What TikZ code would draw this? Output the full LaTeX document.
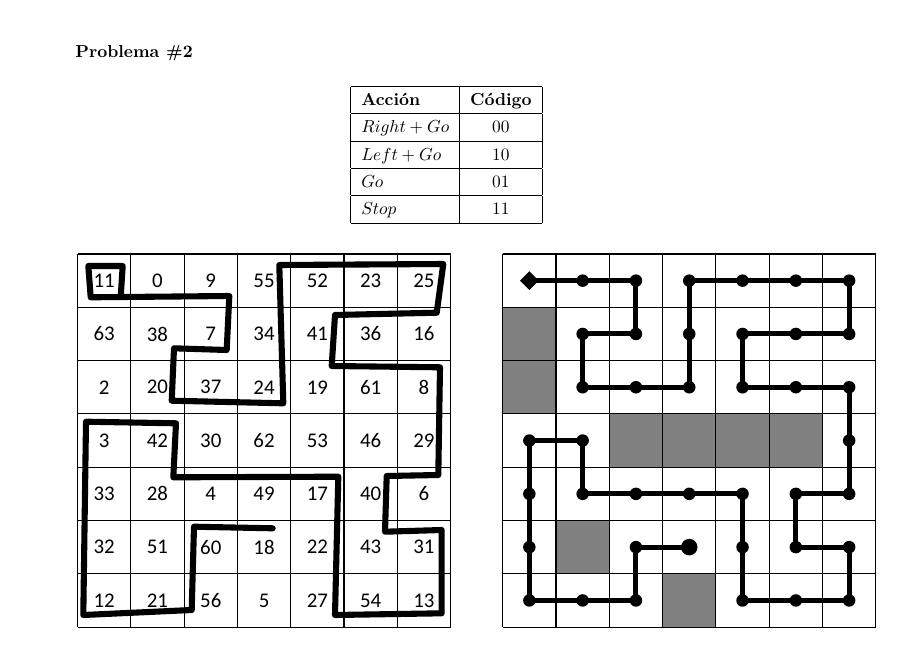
\documentclass[tikz,border=0pt]{standalone}
\usepackage{fontspec}
\newfontfamily\calibri{Carlito}
\usepackage{tikz}
\usetikzlibrary{shapes.geometric}
\definecolor{celdagris}{RGB}{128,128,128}
\newcommand{\cel}{53.3}

\begin{document}
\begin{tikzpicture}[x=0.575pt, y=-0.575pt,
    every node/.style={font=\normalsize},
    rejilla/.style={line width=0.6pt},
    num/.style={font=\calibri\fontsize{12}{14}\selectfont},
    ruta/.style={line width=3.5pt, line join=round, line cap=round},
    camino/.style={line width=2.9pt},
    punto/.style={circle, fill, inner sep=0pt, minimum size=7.2pt}]
    \useasboundingbox (0,0) rectangle (901,663);
    % Title
    \node[anchor=base west, inner sep=0pt, font=\bfseries] (titulo) at (75,57.5) {Problema \#2};
    % Table of actions
    \node (tabla) at (446.5,154.7) {\renewcommand{\arraystretch}{1.28}%
      \begin{tabular}{|l|c|}
        \hline
        \textbf{Acción} & \textbf{Código}\\ \hline
        $Right + Go$ & 00\\ \hline
        $Left + Go$ & 10\\ \hline
        $Go$ & 01\\ \hline
        $Stop$ & 11\\ \hline
      \end{tabular}};
    % Left grid
    \foreach \i in {0,...,7} {
      \draw[rejilla] ({77.5+\cel*\i},254) -- ({77.5+\cel*\i},627.1);
      \draw[rejilla] (77.5,{254+\cel*\i}) -- (450.6,{254+\cel*\i});
    }
    \foreach \r/\fila in {1/{11,0,9,55,52,23,25}, 2/{63,38,7,34,41,36,16},
        3/{2,20,37,24,19,61,8}, 4/{3,42,30,62,53,46,29}, 5/{33,28,4,49,17,40,6},
        6/{32,51,60,18,22,43,31}, 7/{12,21,56,5,27,54,13}} {
      \foreach \v [count=\c] in \fila {
        \node[num] (n\r-\c) at ({77.5+\cel*(\c-0.5)},{254+\cel*(\r-0.5)}) {\v};
      }
    }
    % Hand drawn route
    \draw[ruta] (120.7,296.7) -- (122.7,266) -- (88.3,266) -- (90.7,297.3)
      -- (229.3,296) -- (226.7,350) -- (174,348.3) -- (171.7,400.7)
      -- (283.3,403.3) -- (279.3,265) -- (443.3,264) -- (436.7,312.7)
      -- (335,315) -- (331.7,366) -- (440,367.3) -- (438.3,475)
      -- (386.7,476) -- (385,531.7) -- (441.7,530) -- (441.7,613.3)
      -- (335,615) -- (338.3,476.7) -- (173.3,477.3) -- (176,423.3)
      -- (86,421.7) -- (83.3,615) -- (191.7,610) -- (194,526.7)
      -- (272.7,528.3);
    % Right grid: blocked cells
    \foreach \c/\r in {1/2, 1/3, 3/4, 4/4, 5/4, 6/4, 2/6, 4/7} {
      \fill[celdagris] ({502.7+\cel*(\c-1)},{254+\cel*(\r-1)}) rectangle +(\cel,\cel);
    }
    \foreach \i in {0,...,7} {
      \draw[rejilla] ({502.7+\cel*\i},254) -- ({502.7+\cel*\i},627.1);
      \draw[rejilla] (502.7,{254+\cel*\i}) -- (875.8,{254+\cel*\i});
    }
    % Path of the robot
    \node[diamond, fill, inner sep=0pt, minimum size=11pt] (p1)
      at ({502.7+\cel*0.5},{254+\cel*0.5}) {};
    \foreach \c/\r [count=\i from 2] in {2/1, 3/1, 3/2, 2/2, 2/3, 3/3, 4/3, 4/2,
        4/1, 5/1, 6/1, 7/1, 7/2, 6/2, 5/2, 5/3, 6/3, 7/3, 7/4, 7/5, 6/5, 6/6,
        7/6, 7/7, 6/7, 5/7, 5/6, 5/5, 4/5, 3/5, 2/5, 2/4, 1/4, 1/5, 1/6, 1/7,
        2/7, 3/7, 3/6} {
      \node[punto] (p\i) at ({502.7+\cel*(\c-0.5)},{254+\cel*(\r-0.5)}) {};
    }
    \node[punto, minimum size=9.5pt] (p41) at ({502.7+\cel*3.5},{254+\cel*5.5}) {};
    \foreach \a [remember=\a as \b (initially 1)] in {2,...,41} {
      \draw[camino] (p\b.center) -- (p\a.center);
    }
  \end{tikzpicture}
\end{document}
